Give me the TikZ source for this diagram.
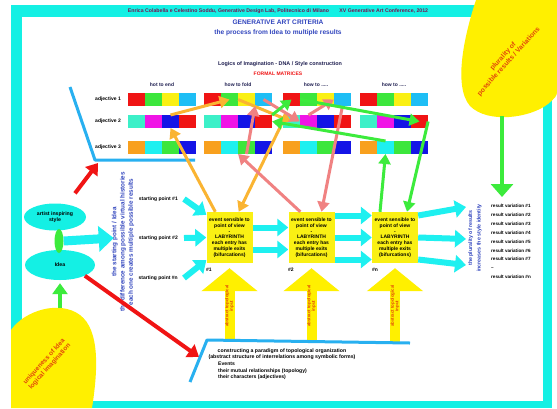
\documentclass[tikz,border=0pt]{standalone}
\usepackage{fontspec}
\setmainfont{Liberation Sans}
\usetikzlibrary{arrows.meta,shapes.geometric,calc}
\definecolor{fcyan}{RGB}{20,240,228}
\definecolor{ayellow}{RGB}{255,240,0}
\definecolor{skyb}{RGB}{40,176,240}
\definecolor{cred}{RGB}{240,20,20}
\definecolor{cgreen}{RGB}{60,230,60}
\definecolor{cblue}{RGB}{20,20,230}
\definecolor{cmag}{RGB}{240,20,230}
\definecolor{caqua}{RGB}{60,240,200}
\definecolor{corange}{RGB}{248,160,30}
\definecolor{cyellow}{RGB}{250,240,20}
\definecolor{clblue}{RGB}{30,190,245}
\definecolor{ccyan}{RGB}{30,240,240}
\definecolor{aorange}{RGB}{250,180,50}
\definecolor{salmon}{RGB}{240,130,130}
\definecolor{agreen}{RGB}{60,235,60}
\definecolor{tblue}{RGB}{50,70,190}
\definecolor{tdark}{RGB}{30,30,80}
\definecolor{tred}{RGB}{225,70,10}
\definecolor{hdrcol}{RGB}{120,20,80}
\newcommand{\myfs}[2]{\fontsize{#1}{#2}\selectfont\bfseries}
\begin{document}
\begin{tikzpicture}[x=1pt,y=-1pt,
  lbl/.style={inner sep=0pt, align=center, text=black, font=\myfs{5}{6}},
  cell/.style={minimum width=17.2pt, minimum height=13pt, inner sep=0pt, outer sep=0pt},
  ybox/.style={fill=cyellow, minimum width=46pt, minimum height=51pt, inner sep=0pt, align=center, font=\myfs{5}{5.8}},
  redarr/.style={cred, line width=4pt, -{Triangle[length=11pt,width=15pt]}},
  cyarr/.style={ccyan, line width=6pt, -{Triangle[length=11pt,width=17pt]}},
  bigcy/.style={ccyan, line width=9pt, -{Triangle[length=15pt,width=25pt]}},
  grarr/.style={agreen, line width=4pt, -{Triangle[length=11pt,width=15pt]}},
  biggr/.style={agreen, line width=4pt, -{Triangle[length=13pt,width=22pt]}},
  marr/.style={line width=3pt, -{Triangle[length=10pt,width=12pt]}},
  yarr/.style={ayellow, line width=10pt, -{Triangle[length=23pt,width=55pt]}},
  ell/.style={ellipse, fill=fcyan, inner sep=0pt, align=center, font=\myfs{5.2}{6}}
]
\useasboundingbox (0,0) rectangle (557,408);
\fill[white] (0,0) rectangle (557,408);
\fill[fcyan] (11,5) rectangle (552,408);
\fill[white] (22,17) rectangle (543,401);
% blobs
\fill[ayellow] (476,0) .. controls (466,30) and (452,85) .. (470,106) .. controls (488,124) and (530,118) .. (548,104) .. controls (555,98) and (557,96) .. (557,92) -- (557,0) -- cycle;
\fill[ayellow] (11,330) .. controls (25,310) and (60,300) .. (80,315) .. controls (100,330) and (98,370) .. (92,408) -- (11,408) -- cycle;
\node[lbl, rotate=48, text=tred, font=\myfs{6.8}{7.5}] (plurtxt) at (506,59) {plurality of\\possible results / Variations};
\node[lbl, rotate=48, text=tred, font=\myfs{6.5}{7.5}] (uniq) at (47,364) {uniqueness of Idea\\logical imagination};
% header and titles
\node[lbl, text=hdrcol, font=\myfs{5.2}{6}] (hdr) at (278,11) {Enrica Colabella e Celestino Soddu, Generative Design Lab, Politecnico di Milano\quad\quad XV Generative Art Conference, 2012};
\node[lbl, text=tblue, font=\myfs{6.6}{9.5}] (title) at (278,28) {GENERATIVE ART CRITERIA\\the process from Idea to multiple results};
\node[lbl, text=tdark, font=\myfs{5.4}{6}] (logic) at (280,64) {Logics of Imagination - DNA / Style construction};
\node[lbl, text=cred, font=\myfs{5}{6}] (formal) at (278,74) {FORMAL MATRICES};
\node[lbl, text=tdark] (h1) at (162,85) {hot to end};
\node[lbl, text=tdark] (h2) at (238,85) {how to fold};
\node[lbl, text=tdark] (h3) at (316,85) {how to .....};
\node[lbl, text=tdark] (h4) at (394,85) {how to .....};
\node[lbl, anchor=east] (adj1) at (121,99.5) {adjective 1};
\node[lbl, anchor=east] (adj2) at (121,121.5) {adjective 2};
\node[lbl, anchor=east] (adj3) at (121,147.5) {adjective 3};
% matrices
\foreach \g/\gx in {1/128,2/204,3/283,4/360}{
  \foreach \k/\ca/\cb/\cc in {1/cred/caqua/corange,2/cgreen/cmag/ccyan,3/cyellow/cblue/cgreen,4/clblue/cred/cblue}{
    \node[cell,fill=\ca] (c\g1\k) at ({\gx+17*\k-8.5},99.5) {};
    \node[cell,fill=\cb] (c\g2\k) at ({\gx+17*\k-8.5},121.5) {};
    \node[cell,fill=\cc] (c\g3\k) at ({\gx+17*\k-8.5},147.5) {};
  }
}
% bracket near matrices
\coordinate (bcorner) at (95,160);
\draw[skyb, line width=3pt, line join=round] (70,87) -- (bcorner) -- (195,160);
% left side
\node[ell, minimum width=62pt, minimum height=27pt] (artist) at (55,217) {artist inspiring\\style};
\node[ell, minimum width=70pt, minimum height=30pt] (idea) at (60,265) {Idea};
\node[ellipse, fill=agreen, minimum width=9pt, minimum height=24pt, inner sep=0pt] (link) at (59,241) {};
\node[lbl, rotate=90, text=tblue, font=\myfs{6.3}{8.2}] (story) at (123,242) {the starting point / Idea\\the difference among possible virtual histories\\each one creates multiple possible results};
\node[lbl, anchor=east] (sp1) at (178,199) {starting point \#1};
\node[lbl, anchor=east] (sp2) at (178,238) {starting point \#2};
\node[lbl, anchor=east] (sp3) at (178,278) {starting point \#n};
\draw[bigcy] (link.east) -- ([xshift=-25pt]sp2.west);
\draw[redarr] ($(artist.north)+(20,-10)$) -- ($(bcorner)+(3,3)$);
\coordinate (ptip) at (199,357);
\draw[redarr] (idea.south east) -- (ptip);
\coordinate (gbot) at (60,308);
\draw[grarr] (gbot) -- ([yshift=-3pt]idea.south);
% boxes
\node[ybox] (box1) at (229.5,237.5) {event sensible to\\point of view\\-\\LABYRINTH\\each entry has\\multiple exits\\(bifurcations)};
\node[ybox] (box2) at (311.5,237.5) {event sensible to\\point of view\\-\\LABYRINTH\\each entry has\\multiple exits\\(bifurcations)};
\node[ybox] (box3) at (395,237.5) {event sensible to\\point of view\\-\\LABYRINTH\\each entry has\\multiple exits\\(bifurcations)};
\node[lbl, anchor=west] (n1) at (206,270) {\#1};
\node[lbl, anchor=west] (n2) at (288,270) {\#2};
\node[lbl, anchor=west] (n3) at (372,270) {\#n};
% cyan arrows
\draw[cyarr] ([xshift=6pt]sp1.east) -- ([yshift=-3pt]box1.north west);
\draw[cyarr] ([xshift=6pt]sp2.east) -- (box1.west);
\draw[cyarr] ([xshift=6pt]sp3.east) -- ([yshift=3pt]box1.south west);
\draw[cyarr] ([yshift=10pt]box1.east) -- ([yshift=10pt]box2.west);
\draw[cyarr] ([yshift=-12pt]box1.east) -- ([yshift=-12pt]box2.west);
\draw[cyarr] ([yshift=22pt]box2.east) -- ([yshift=22pt]box3.west);
\draw[cyarr] (box2.east) -- (box3.west);
\draw[cyarr] ([yshift=-22pt]box2.east) -- ([yshift=-22pt]box3.west);
\coordinate (e1) at (466,207);
\coordinate (e2) at (466,239);
\coordinate (e3) at (466,265);
\draw[cyarr] ([yshift=22pt]box3.east) -- (e1);
\draw[cyarr] (box3.east) -- (e2);
\draw[cyarr] ([yshift=-22pt]box3.east) -- (e3);
% matrix arrows
\draw[marr, aorange] ([xshift=9pt]box1.north west) -- (c123.south);
\draw[marr, aorange] (c123.north) -- (c212.center);
\draw[marr, aorange] (c212.east) -- (c321.center);
\draw[marr, aorange] (c321.west) -- ([xshift=-14pt]box1.north east);
\draw[marr, salmon] ([xshift=12pt]box2.north west) -- (c232.south east);
\draw[marr, salmon] (c233.south) -- (c213.south east);
\draw[marr, salmon] (c214.center) -- (c322.west);
\draw[marr, salmon] (c322.north) -- (c314.west);
\draw[marr, salmon] (c314.south) -- ([xshift=10pt]box2.north);
\draw[marr, agreen] ([xshift=-15pt]box3.north) -- (c432.south);
\draw[marr, agreen] (c424.east) -- ([xshift=12pt]box3.north);
\draw[marr, agreen] (c432.north) -- (c224.east);
\draw[marr, agreen] (c224.north east) -- (c311.center);
\draw[marr, agreen] (c311.east) -- (c424.center);
% paradigm
\coordinate (p1) at (229.5,341);
\coordinate (p2) at (311.5,342);
\coordinate (p3) at (395,343);
\draw[yarr] (p1) -- ([yshift=-5pt]box1.south);
\draw[yarr] (p2) -- ([yshift=-5pt]box2.south);
\draw[yarr] (p3) -- ([yshift=-5pt]box3.south);
\node[lbl, rotate=90, text=tred, font=\myfs{4.4}{4.6}] (t1) at (229.5,306) {abstract topological\\input};
\node[lbl, rotate=90, text=tred, font=\myfs{4.4}{4.6}] (t2) at (311.5,306) {abstract topological\\input};
\node[lbl, rotate=90, text=tred, font=\myfs{4.4}{4.6}] (t3) at (395,306) {abstract topological\\input};
\draw[skyb, line width=3pt, line join=round] (190,382) -- (207,340) -- (410,343);
\node[lbl, font=\myfs{5.2}{6.5}] (para) at (282,354) {constructing a paradigm of topological organization\\(abstract structure of interrelations among symbolic forms)};
\node[lbl, align=left, anchor=north west, font=\myfs{5.1}{6.5}] (events) at (218,362) {Events\\their mutual relationships (topology)\\their characters (adjectives)};
% results
\node[lbl, rotate=90, text=tblue, font=\myfs{5.3}{8.5}] (plur) at (475,238) {the plurality of results\\increases the style identity};
\node[lbl, align=left, anchor=north west, font=\myfs{4.6}{8.9}] (res) at (491,204) {result variation \#1\\result variation \#2\\result variation \#3\\result variation \#4\\result variation \#5\\result variation \#6\\result variation \#7\\--\\result variation \#n};
\coordinate (gtop) at (502,116);
\coordinate (gtip) at (502,197);
\draw[biggr] (gtop) -- (gtip);
\end{tikzpicture}
\end{document}
